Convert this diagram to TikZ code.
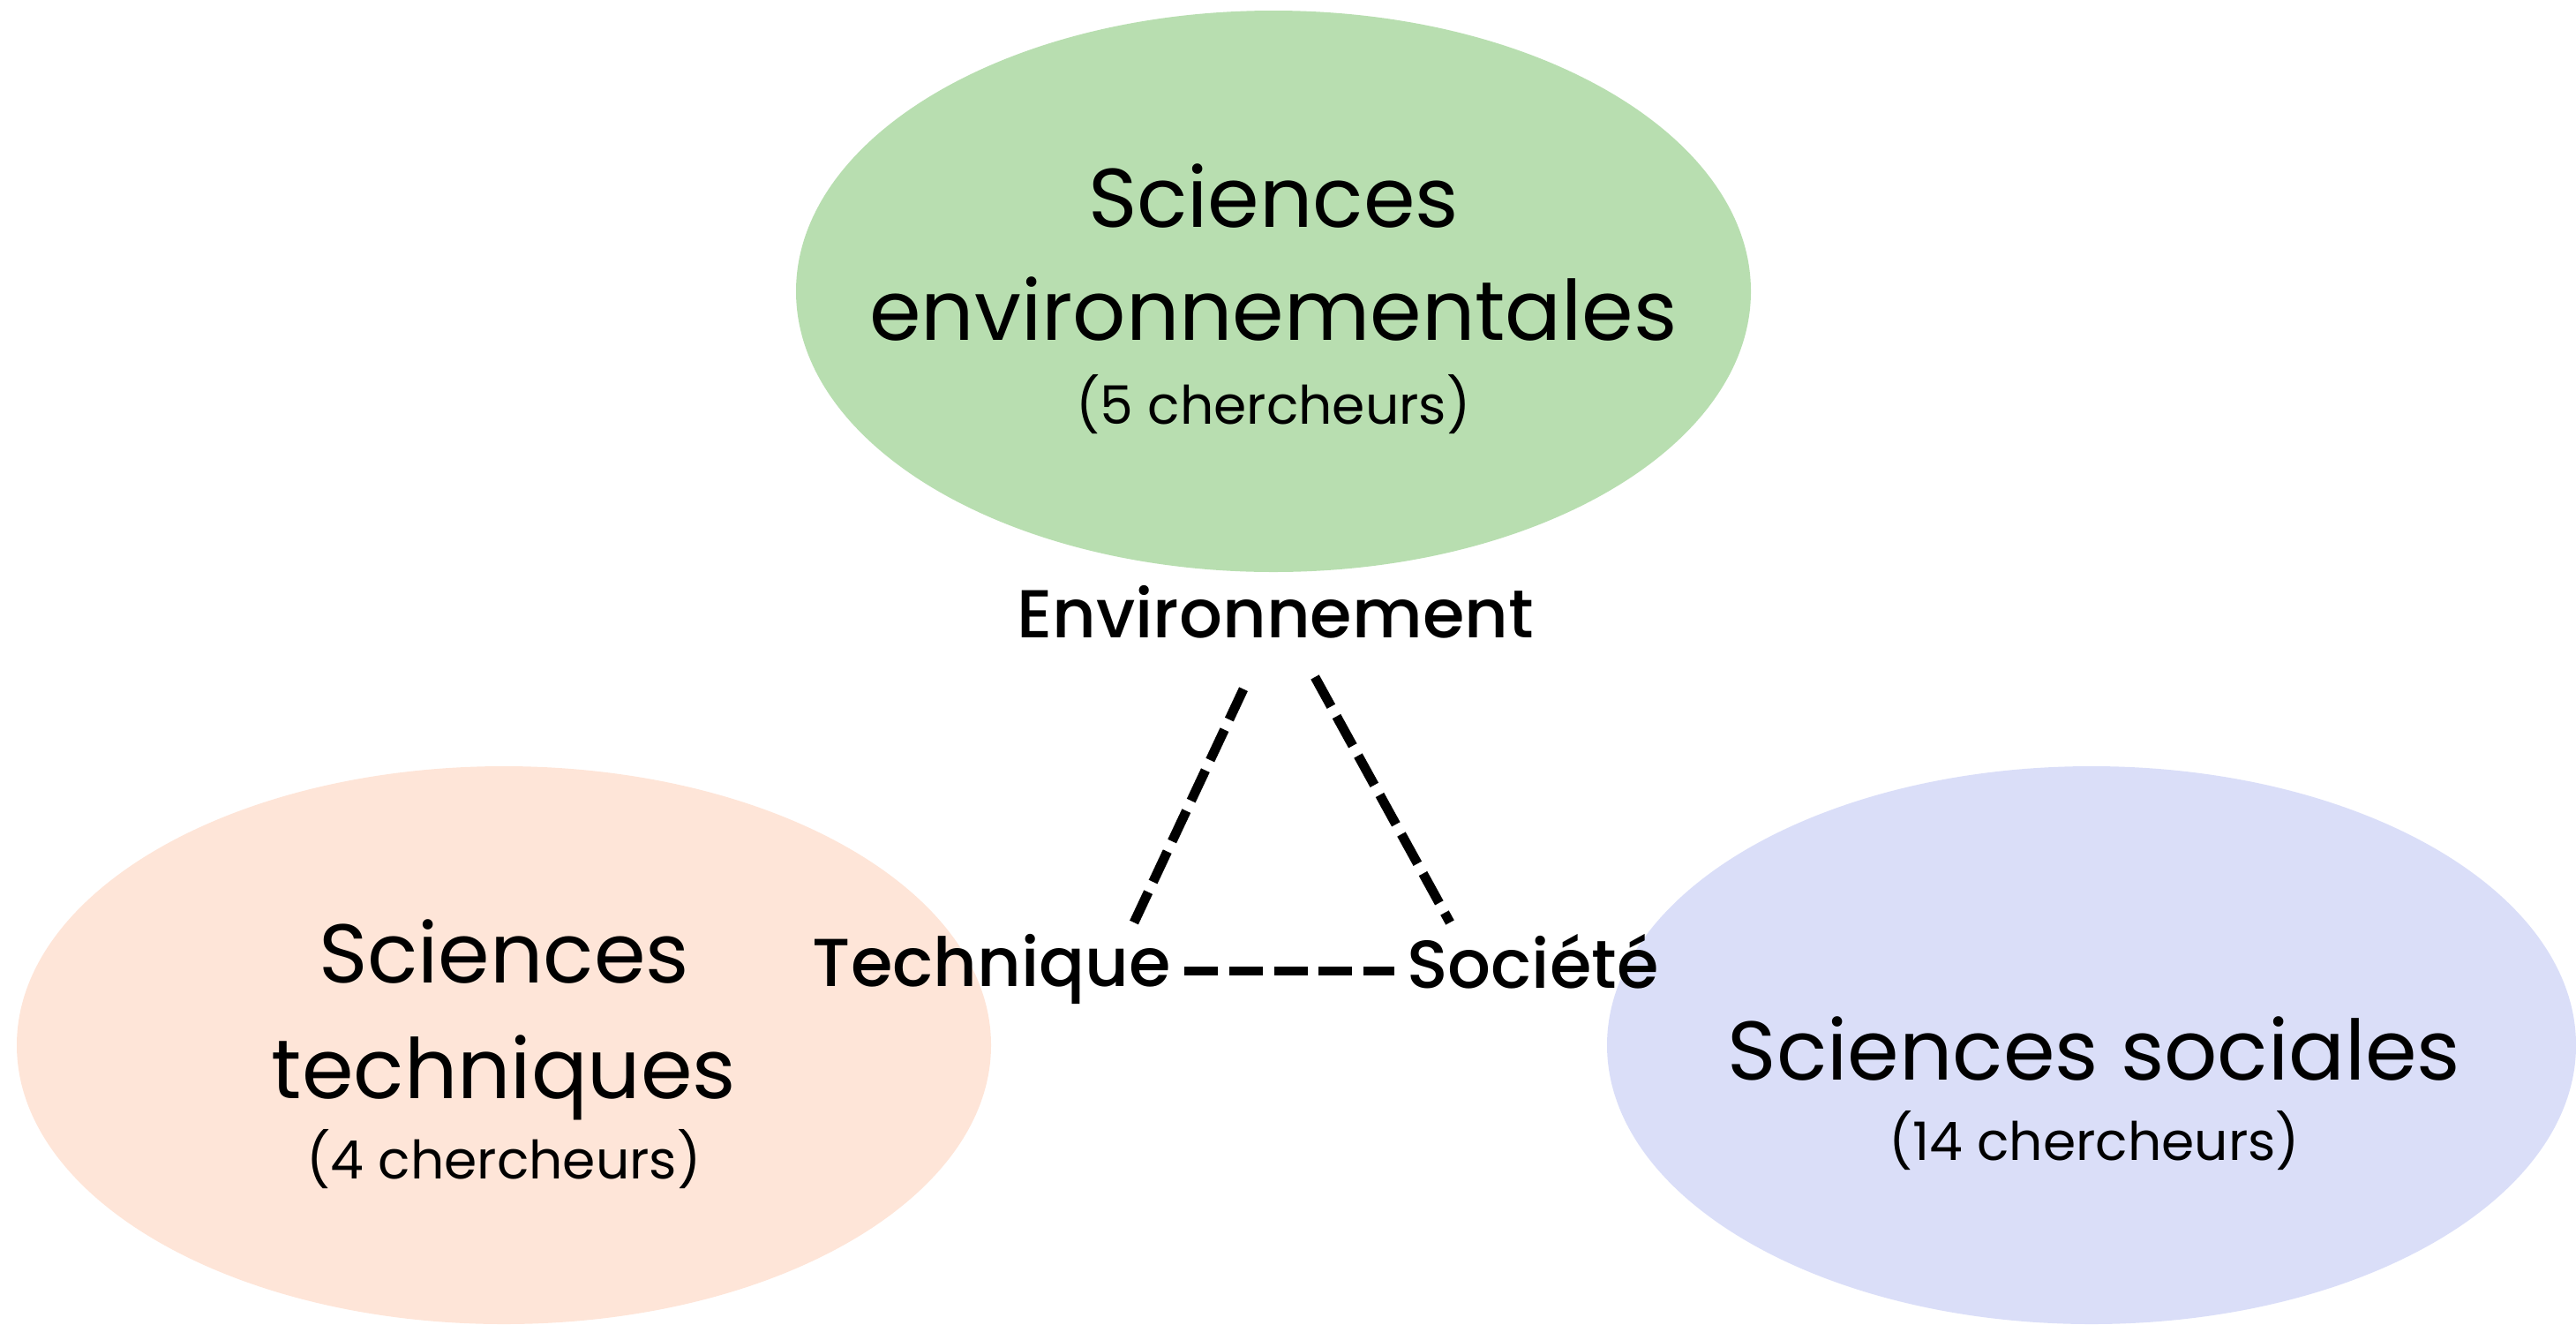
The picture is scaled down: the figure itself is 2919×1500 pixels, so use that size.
\documentclass[tikz,border=0pt]{standalone}
\usepackage{fontspec}
\setmainfont{Poppins}
\newfontfamily\medfont{Poppins Medium}
\definecolor{envgreen}{RGB}{184,222,176}
\definecolor{techorange}{RGB}{254,229,216}
\definecolor{socblue}{RGB}{218,222,248}
\tikzset{
  bigtxt/.style={anchor=base, inner sep=0pt, font=\fontsize{23.6pt}{28pt}\selectfont},
  smalltxt/.style={anchor=base, inner sep=0pt, font=\fontsize{15pt}{18pt}\selectfont},
  lbl/.style={anchor=base, inner sep=0pt, font=\medfont\fontsize{19.2pt}{23pt}\selectfont},
  link/.style={line width=2.7pt, dash pattern=on 9.5pt off 3.2pt}
}
\begin{document}
\begin{tikzpicture}[x=0.25pt, y=-0.25pt]
\useasboundingbox (0,0) rectangle (2919,1500);
\begin{scope}
\clip (0,0) rectangle (2919,1500);
\fill[envgreen] (1443,330) ellipse [x radius=135.25pt, y radius=79.5pt];
\fill[techorange] (571,1184) ellipse [x radius=138pt, y radius=79pt];
\fill[socblue] (2370,1184) ellipse [x radius=137.25pt, y radius=79pt];
\end{scope}
% green
\node[bigtxt] (g1) at (1443,257) {Sciences};
\node[bigtxt] (g2) at (1443,385) {environnementales};
\node[smalltxt] (g3) at (1443,480) {(5 chercheurs)};
% orange
\node[bigtxt] (o1) at (571,1113) {Sciences};
\node[bigtxt] (o2) at (571,1244) {techniques};
\node[smalltxt] (o3) at (571,1335) {(4 chercheurs)};
% blue
\node[bigtxt] (b1) at (2373,1223) {Sciences sociales};
\node[smalltxt] (b2) at (2373,1314) {(14 chercheurs)};
% triangle labels
\node[lbl] (env) at (1445,722) {Environnement};
\node[lbl] (tech) at (1124,1117) {Technique};
\node[lbl] (soc) at (1737,1119) {Société};
\coordinate (envL) at (1414,770);
\coordinate (envR) at (1490,767);
\coordinate (techT) at (1285,1045);
\coordinate (techR) at (1342,1100);
\coordinate (socT) at (1643,1045);
\coordinate (socL) at (1580,1100);
\draw[link] (techT) -- (envL);
\draw[link] (envR) -- (socT);
\draw[link] (techR) -- (socL);
\end{tikzpicture}
\end{document}
